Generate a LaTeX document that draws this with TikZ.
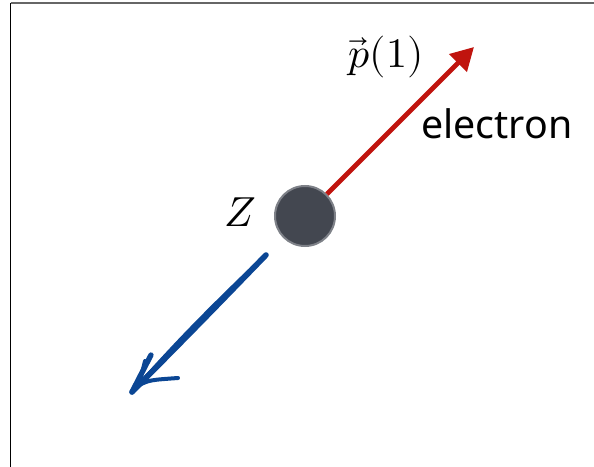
\documentclass[tikz,border=0pt]{standalone}
\usepackage{fontspec}
\usepackage{unicode-math}
\setmathfont{Latin Modern Math}
\newfontfamily\labelfont{Noto Sans}
\usetikzlibrary{arrows.meta}
\definecolor{elecred}{HTML}{C0140E}
\definecolor{sketchblue}{HTML}{0B4694}
\definecolor{nucfill}{HTML}{434750}
\definecolor{nucedge}{HTML}{7E8188}
\tikzset{
  frameline/.style={line width=1.3pt},
  nucleus/.style={circle, fill=nucfill, draw=nucedge, line width=1.5pt, minimum size=45pt, inner sep=0pt},
  elecarrow/.style={draw=elecred, line width=3.6pt, -{Triangle[length=17pt,width=18pt]}},
  sketch/.style={draw=sketchblue, line width=3.2pt, line cap=round, line join=round},
  mathlabel/.style={inner sep=0pt, anchor=base, font=\fontsize{31.5}{36}\selectfont},
  textlabel/.style={inner sep=0pt, anchor=base west, font=\labelfont\fontsize{29.5}{34}\selectfont}
}
\begin{document}
\begin{tikzpicture}[x=0.75pt,y=-0.75pt]
\useasboundingbox (0,0) rectangle (594,467);
% frame
\coordinate (ftr) at (594,3);
\coordinate (ftl) at (10.5,3);
\coordinate (fbl) at (10.5,467);
\draw[frameline, draw=black!60] (ftl) -- (ftr);
\draw[frameline] (ftl) -- (fbl);
% nucleus
\node[nucleus] (nuc) at (305,216) {};
\node[mathlabel] (zlab) at (240,227) {$Z$};
% electron
\coordinate (etip) at (474,47);
\draw[elecarrow] (nuc.45) -- (etip);
\node[mathlabel] (plab) at (386,68) {$\vec{p}(1)$};
\node[textlabel] (elab) at (421,139) {electron};
% sketched recoil arrow
\coordinate (bs) at (266,255);
\coordinate (bs2) at (261,260);
\coordinate (bt) at (132,392);
\coordinate (bt2) at (139,385);
\coordinate (bl) at (151,355);
\coordinate (bl2) at (145,361);
\coordinate (br) at (178,378);
\draw[sketch, line width=4.2pt] (bs) .. controls (205,318) .. (bt);
\draw[sketch, line width=3.6pt] (bs2) .. controls (194,327) .. (bt2);
\draw[sketch, line width=3.0pt] (bs) .. controls (200,318) and (172,348) .. (bt2);
\draw[sketch, line width=4.0pt] (bt) -- (bl);
\draw[sketch, line width=3.0pt] (bt2) -- (bl2);
\draw[sketch, line width=3.0pt] (bt2) .. controls (150,380) .. (br);
\end{tikzpicture}
\end{document}
